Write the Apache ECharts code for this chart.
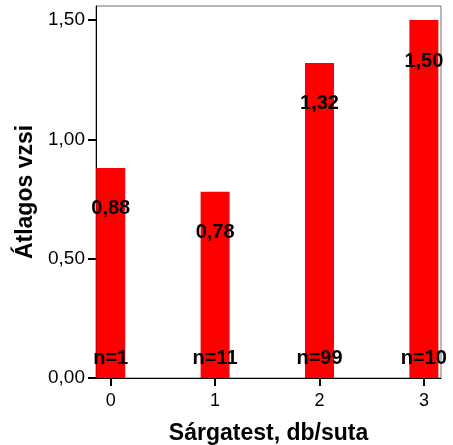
<!DOCTYPE html>
<html>
<head>
<meta charset="utf-8">
<script src="https://cdn.jsdelivr.net/npm/echarts@6/dist/echarts.min.js"></script>
<style>html,body{margin:0;padding:0;background:#fff;}#c{width:453px;height:445px;}</style>
</head>
<body>
<div id="c"></div>
<script>
var categories = [0, 1, 2, 3];
var means = [0.88, 0.78, 1.32, 1.50];
var counts = [1, 11, 99, 10];
var yTicks = [0, 0.5, 1.0, 1.5];
var xName = 'Sárgatest, db/suta';
var yName = 'Átlagos vzsi';

var FONT = '"Liberation Sans", Arial, sans-serif';
function fmt(v){ return v.toFixed(2).replace('.', ','); }

var barData = categories.map(function(c, i){ return [c, means[i]]; });

var chart = echarts.init(document.getElementById('c'), null, {renderer: 'canvas'});
chart.setOption({
  animation: false,
  backgroundColor: '#ffffff',
  grid: {left: 96, right: 12, top: 6, bottom: 67, containLabel: false, outerBoundsMode: 'none',
    show: true, borderColor: '#707070', borderWidth: 1, backgroundColor: 'transparent'},
  xAxis: {
    type: 'value', min: -0.141, max: 3.164,
    name: xName, nameLocation: 'middle', nameGap: 44,
    nameTextStyle: {fontFamily: FONT, fontSize: 23, fontWeight: 'bold', color: '#000'},
    axisLine: {show: true, onZero: false, lineStyle: {color: '#000', width: 1}},
    axisTick: {show: true, inside: false, length: 8, lineStyle: {color: '#000', width: 2}, customValues: categories},
    axisLabel: {customValues: categories, fontFamily: FONT, fontSize: 18, color: '#000', margin: 14, formatter: function(v){ return String(v); }},
    splitLine: {show: false}
  },
  yAxis: {
    type: 'value', min: 0, max: 1.5586,
    name: yName, nameLocation: 'middle', nameGap: 53, nameRotate: 90,
    nameTextStyle: {fontFamily: FONT, fontSize: 23, fontWeight: 'bold', color: '#000'},
    axisLine: {show: true, onZero: false, lineStyle: {color: '#000', width: 1}},
    axisTick: {show: true, inside: false, length: 8, lineStyle: {color: '#000', width: 2}, customValues: yTicks},
    axisLabel: {customValues: yTicks, fontFamily: FONT, fontSize: 19, color: '#000', margin: 11, formatter: function(v){ return fmt(v); }},
    splitLine: {show: false}
  },
  series: [
    {
      type: 'bar', data: barData, barWidth: 29,
      itemStyle: {color: '#ff0000'},
      label: {show: true, position: 'insideTop', distance: 31, fontFamily: FONT, fontSize: 20, fontWeight: 'bold', color: '#000',
        formatter: function(p){ return fmt(p.value[1]); }},
      z: 2
    },
    {
      type: 'bar', data: barData, barWidth: 29, barGap: '-100%',
      itemStyle: {color: 'rgba(0,0,0,0)'},
      label: {show: true, position: 'insideBottom', distance: 10, fontFamily: FONT, fontSize: 20, fontWeight: 'bold', color: '#000',
        formatter: function(p){ return 'n=' + counts[p.dataIndex]; }},
      z: 3
    }
  ]
});
</script>
</body>
</html>
